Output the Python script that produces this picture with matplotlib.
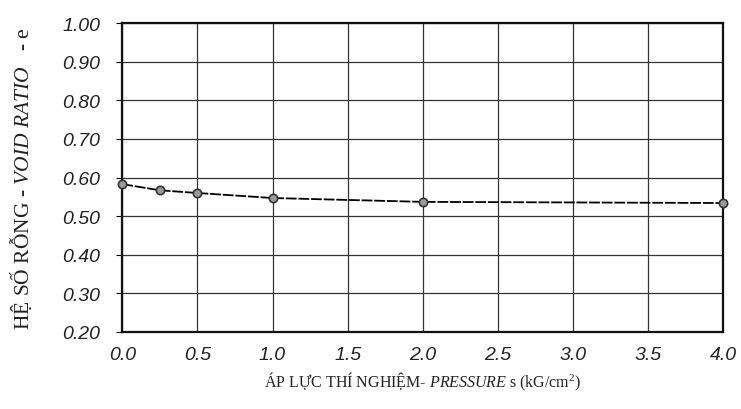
import matplotlib
matplotlib.use("Agg")
import matplotlib.pyplot as plt

# data
pressure = [0.0, 0.25, 0.5, 1.0, 2.0, 4.0]
void_ratio = [0.583, 0.567, 0.560, 0.547, 0.537, 0.534]
xticks = [0.0, 0.5, 1.0, 1.5, 2.0, 2.5, 3.0, 3.5, 4.0]
yticks = [0.20, 0.30, 0.40, 0.50, 0.60, 0.70, 0.80, 0.90, 1.00]

plt.rcParams['mathtext.fontset'] = 'custom'
plt.rcParams['mathtext.rm'] = 'Liberation Serif'
plt.rcParams['mathtext.it'] = 'Liberation Serif:italic'

fig = plt.figure(figsize=(7.41, 4.10), dpi=100)
ax = fig.add_axes([0.165, 0.188, 0.811, 0.753])

ax.plot(pressure, void_ratio, color='black', lw=1.3, dashes=(6, 1),
        marker='o', ms=6, mfc='#9a9a9a', mec='#333333', mew=1.2, zorder=3,
        clip_on=False)

ax.set_xlim(0, 4.0)
ax.set_ylim(0.2, 1.0)
ax.set_xticks(xticks)
ax.set_yticks(yticks)
ax.set_xticklabels([f"{v:.1f}" for v in xticks])
ax.set_yticklabels([f"{v:.2f}" for v in yticks])
for lab in ax.get_xticklabels() + ax.get_yticklabels():
    lab.set_fontfamily('Liberation Sans')
    lab.set_fontstyle('italic')
    lab.set_fontsize(14)
    lab.set_color('#222222')

ax.grid(True, color='#333333', lw=0.9)
ax.tick_params(axis='x', length=0, pad=10)
ax.tick_params(axis='y', length=4, width=0.8, pad=12, direction='out')
for s in ax.spines.values():
    s.set_linewidth(1.6)
    s.set_color('#111111')

ax.set_xlabel(r"ÁP LỰC THÍ NGHIỆM- $\mathit{PRESSURE}$ s (kG/cm$^{2}$)",
              fontfamily='Liberation Serif', fontsize=11.5, labelpad=5, color='#222222')
ax.set_ylabel(r"HỆ SỐ RỖNG - $\mathit{VOID\ RATIO}$   - e",
              fontfamily='Liberation Serif', fontsize=15.5, labelpad=20, color='#222222')

fig.savefig("out.png", dpi=100)
